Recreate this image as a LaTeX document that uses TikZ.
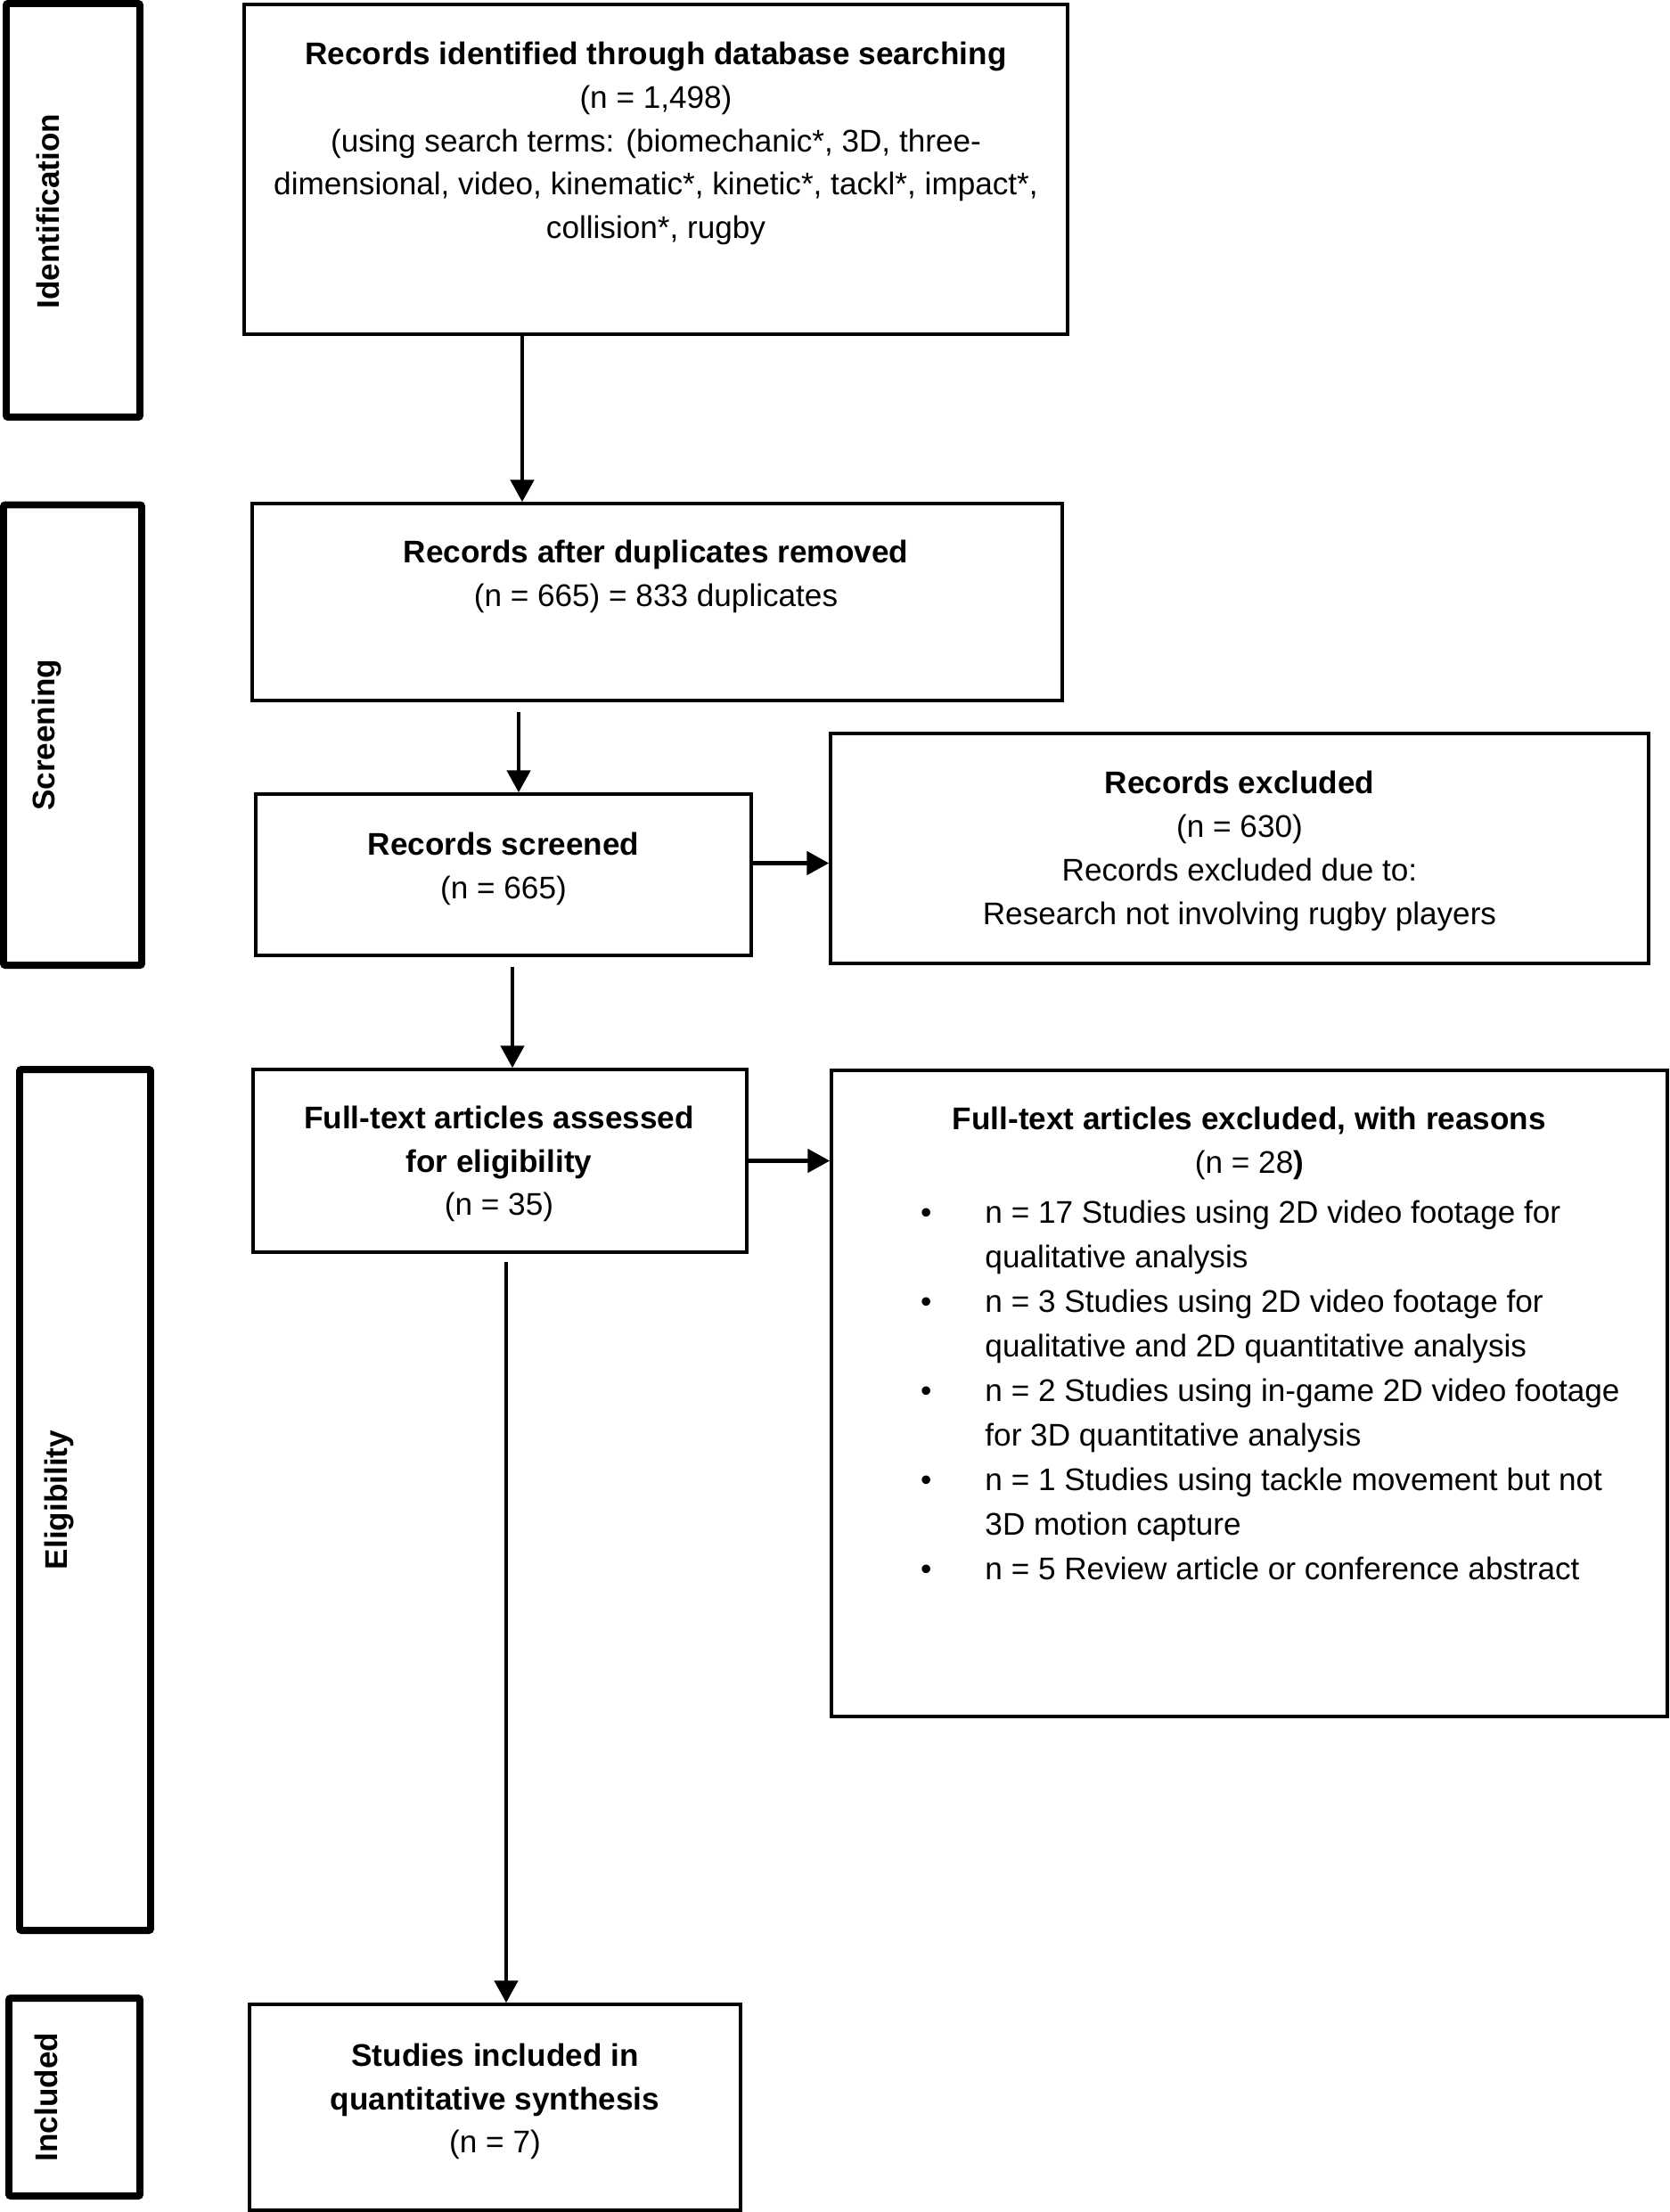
\documentclass[tikz,border=0pt]{standalone}
\usepackage{fontspec}
\setmainfont{Liberation Sans}
\usetikzlibrary{arrows.meta}

\tikzset{
  box/.style={draw, line width=1pt},
  stage/.style={draw, line width=2.27pt, rounded corners=0.6pt},
  txt/.style={align=center, inner sep=0pt, font=\fontsize{10}{13.9}\selectfont},
  listtxt/.style={align=left, inner sep=0pt, font=\fontsize{10}{14.25}\selectfont},
  stagetxt/.style={rotate=90, inner sep=0pt, font=\fontsize{10}{12}\selectfont\bfseries},
}

\begin{document}
\begin{tikzpicture}[>={Triangle[length=2.5mm,width=2.6mm]}, line width=1.4pt]
\useasboundingbox (0,0) rectangle (18.73,-24.82);

\node[stage, minimum width=1.50cm, minimum height=4.64cm] (identification) at (0.82,-2.36)   {};
\node[stage, minimum width=1.55cm, minimum height=5.165cm] (screening) at (0.815,-8.2475)    {};
\node[stage, minimum width=1.47cm, minimum height=9.66cm] (eligibility) at (0.955,-16.83)    {};
\node[stage, minimum width=1.47cm, minimum height=2.22cm] (included) at (0.835,-23.53)       {};

\node[stagetxt] (identificationtxt) at (0.54,-2.37)  {Identification};
\node[stagetxt] (screeningtxt) at (0.52,-8.25)       {Screening};
\node[stagetxt] (eligibilitytxt) at (0.66,-16.83)    {Eligibility};
\node[stagetxt] (includedtxt) at (0.52,-23.53)       {Included};

\node[box, minimum width=9.24cm, minimum height=3.70cm] (search) at (7.36,-1.90)     {};
\node[box, minimum width=9.09cm, minimum height=2.21cm] (dedup) at (7.375,-6.755)    {};
\node[box, minimum width=5.56cm, minimum height=1.81cm] (screened) at (5.65,-9.815)  {};
\node[box, minimum width=9.18cm, minimum height=2.58cm] (excluded) at (13.91,-9.52)  {};
\node[box, minimum width=5.54cm, minimum height=2.05cm] (fulltext) at (5.61,-13.025) {};
\node[box, minimum width=9.38cm, minimum height=7.25cm] (reasons) at (14.02,-15.635) {};
\node[box, minimum width=5.51cm, minimum height=2.31cm] (synthesis) at (5.555,-23.645) {};

\node[txt] (searchtxt) at (7.36,-1.61) {\textbf{Records identified through database searching}\\
(n = 1,498)\\
(using search terms: (biomechanic*, 3D, three-\\
dimensional, video, kinematic*, kinetic*, tackl*, impact*,\\
collision*, rugby};
\node[txt] (deduptxt) at (7.36,-6.47) {\textbf{Records after duplicates removed}\\(n = 665) = 833 duplicates};
\node[txt] (screenedtxt) at (5.65,-9.75) {\textbf{Records screened}\\(n = 665)};
\node[txt] (excludedtxt) at (13.91,-9.55) {\textbf{Records excluded}\\(n = 630)\\Records excluded due to:\\Research not involving rugby players};
\node[txt] (fulltexttxt) at (5.60,-13.06) {\textbf{Full-text articles assessed}\\\textbf{for eligibility}\\(n = 35)};
\node[txt] (reasonstxt) at (14.02,-12.83) {\textbf{Full-text articles excluded, with reasons}\\(n = 28\textbf{)}};
\node[listtxt, anchor=west] (reasonslist) at (11.03,-15.60) {%
\llap{\textbullet\hspace{0.6cm}}n = 17 Studies using 2D video footage for\\
qualitative analysis\\
\llap{\textbullet\hspace{0.6cm}}n = 3 Studies using 2D video footage for\\
qualitative and 2D quantitative analysis\\
\llap{\textbullet\hspace{0.6cm}}n = 2 Studies using in-game 2D video footage\\
for 3D quantitative analysis\\
\llap{\textbullet\hspace{0.6cm}}n = 1 Studies using tackle movement but not\\
3D motion capture\\
\llap{\textbullet\hspace{0.6cm}}n = 5 Review article or conference abstract};
\node[txt] (synthesistxt) at (5.555,-23.58) {\textbf{Studies included in}\\\textbf{quantitative synthesis}\\(n = 7)};

\coordinate (x1) at (5.86,0);
\coordinate (x2) at (5.82,0);
\coordinate (x4) at (5.75,0);
\coordinate (x6) at (5.68,0);
\coordinate (y3) at (0,-9.685);

\path[->] (search.south -| x1) edge (dedup.north -| x1);
\path[->] (dedup.south -| x2) edge[shorten <=0.11cm] (screened.north -| x2);
\path[->] (screened.east |- y3) edge (excluded.west |- y3);
\path[->] (screened.south -| x4) edge[shorten <=0.11cm] (fulltext.north -| x4);
\path[->] (fulltext.east) edge (reasons.west |- fulltext.east);
\path[->] (fulltext.south -| x6) edge[shorten <=0.09cm] (synthesis.north -| x6);

\end{tikzpicture}
\end{document}
